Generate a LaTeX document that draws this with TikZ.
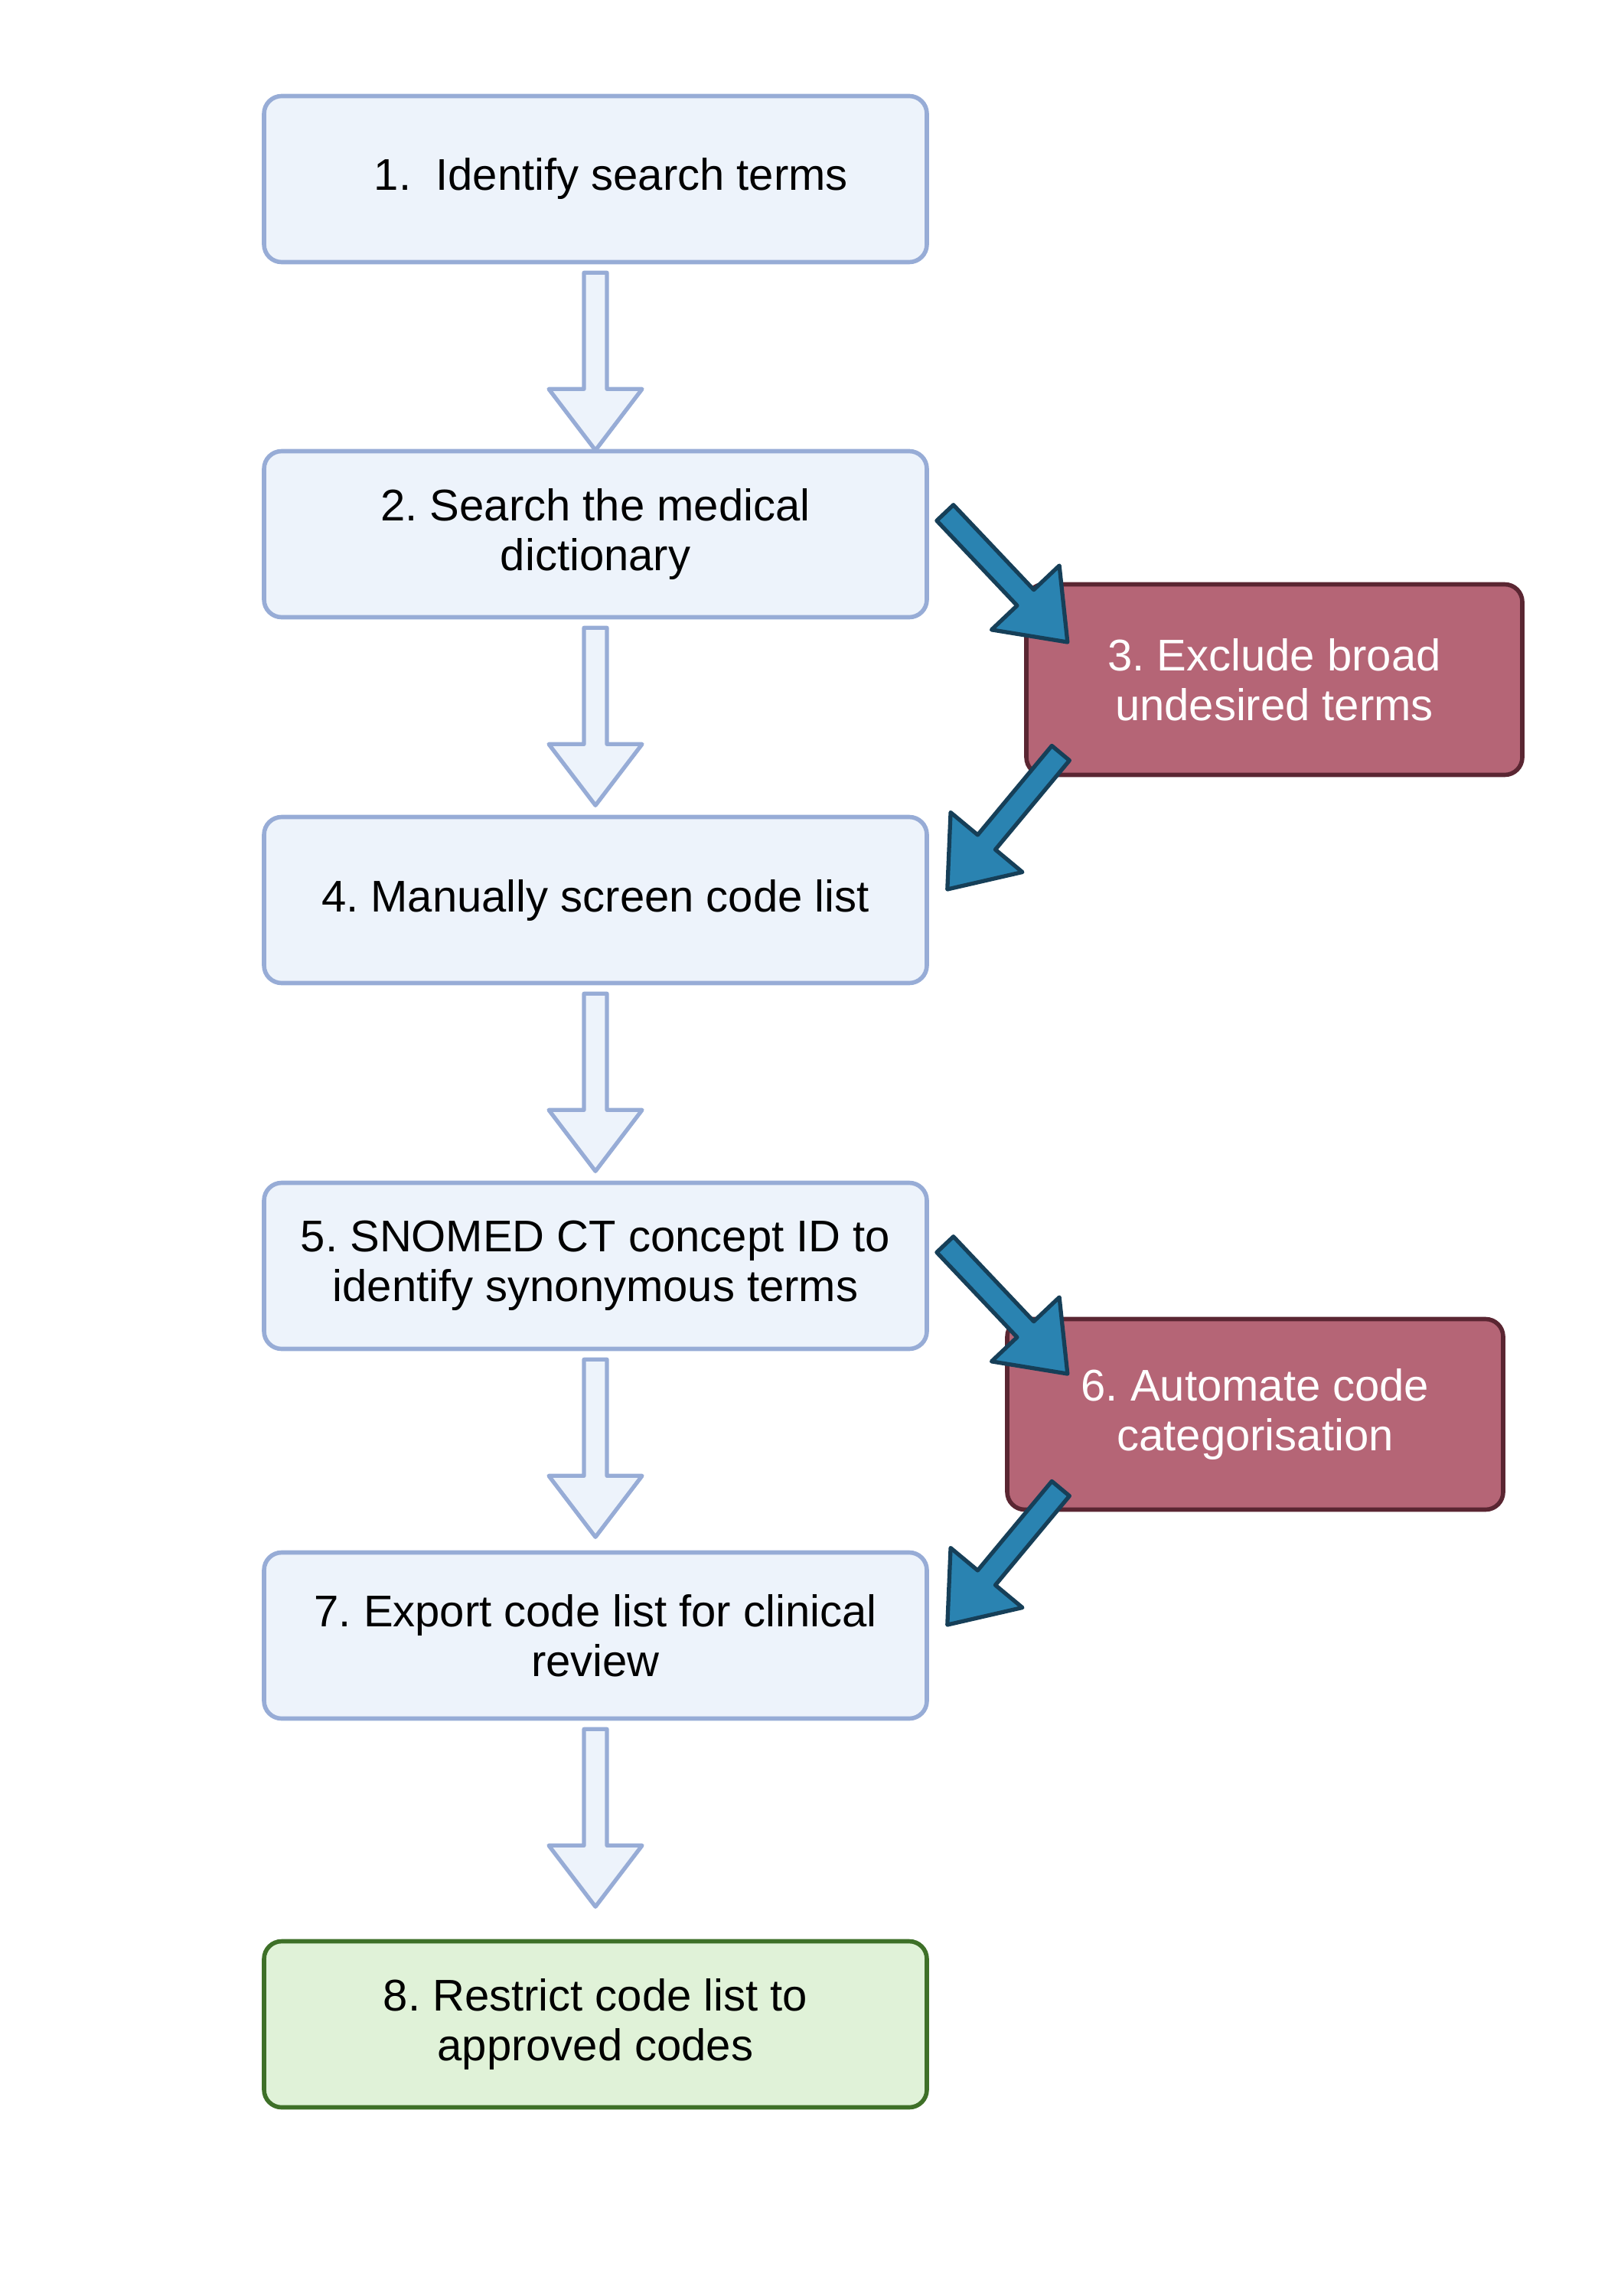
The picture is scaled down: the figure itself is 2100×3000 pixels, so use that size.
\documentclass[tikz,border=0pt]{standalone}
\usepackage{fontspec}
\setmainfont{Liberation Sans}
\usetikzlibrary{calc}
\frenchspacing
\definecolor{stepfill}{HTML}{EDF3FB}
\definecolor{stepline}{HTML}{97ACD6}
\definecolor{exclfill}{HTML}{B56576}
\definecolor{exclline}{HTML}{5A2632}
\definecolor{donefill}{HTML}{E0F2D8}
\definecolor{doneline}{HTML}{3E7028}
\definecolor{fatfill}{HTML}{2A83B1}
\definecolor{fatline}{HTML}{163F58}
\newcommand{\blockarrow}[3][]{%
	\coordinate (ba-h) at ($(#3)!8mm!(#2)$);
	\draw[#1] ($(#2)!1.5mm!90:(#3)$) -- ($(ba-h)!1.5mm!90:(#3)$)
		-- ($(ba-h)!6.1mm!90:(#3)$) -- (#3) -- ($(ba-h)!6.1mm!-90:(#3)$)
		-- ($(ba-h)!1.5mm!-90:(#3)$) -- ($(#2)!1.5mm!-90:(#3)$) -- cycle;
}
\tikzset{
	stage/.style={draw=stepline, fill=stepfill, line width=1.6pt, rounded corners=2.3mm,
		minimum width=86.6mm, minimum height=21.7mm, align=center,
		font=\fontsize{16.5}{18.5}\selectfont\frenchspacing},
	excl/.style={stage, draw=exclline, fill=exclfill, text=white,
		minimum width=64.8mm, minimum height=24.9mm},
	done/.style={stage, draw=doneline, fill=donefill},
	hollow/.style={draw=stepline, fill=stepfill, line width=1.5pt, line join=round},
	fat/.style={draw=fatline, fill=fatfill, line width=1.5pt, line join=round},
}
\begin{document}
\begin{tikzpicture}[x=0.1mm,y=0.1mm]
\useasboundingbox (0,0) rectangle (2100,-3000);
\node[stage] (s1) at (778,-234) {\hspace*{0.7em}1.\ \ Identify search terms};
\node[stage] (s2) at (778,-698) {2. Search the medical\\dictionary};
\node[excl]  (s3) at (1665,-888) {3. Exclude broad\\undesired terms};
\node[stage] (s4) at (778,-1176) {4. Manually screen code list};
\node[stage] (s5) at (778,-1654) {5. SNOMED CT concept ID to\\identify synonymous terms};
\node[excl]  (s6) at (1640,-1848) {6. Automate code\\categorisation};
\node[stage] (s7) at (778,-2137) {7. Export code list for clinical\\review};
\node[done]  (s8) at (778,-2645) {8. Restrict code list to\\approved codes};
\foreach \a in {s1,s2,s4,s5,s7} {
	\coordinate (\a-tail) at ($(\a.south)+(0,-11)$);
	\coordinate (\a-tip) at ($(\a.south)+(0,-243)$);
	\blockarrow[hollow]{\a-tail}{\a-tip}
}
\foreach \a/\b/\c in {s2/s3/s4, s5/s6/s7} {
	\coordinate (\a-out) at ($(\a.east)+(21,28)$);
	\coordinate (\b-in) at ($(\a.east)+(181,-141)$);
	\coordinate (\b-out) at ($(\c.east)+(172,192)$);
	\coordinate (\c-in) at ($(\c.east)+(24,14)$);
	\blockarrow[fat]{\a-out}{\b-in}
	\blockarrow[fat]{\b-out}{\c-in}
}
\end{tikzpicture}
\end{document}
